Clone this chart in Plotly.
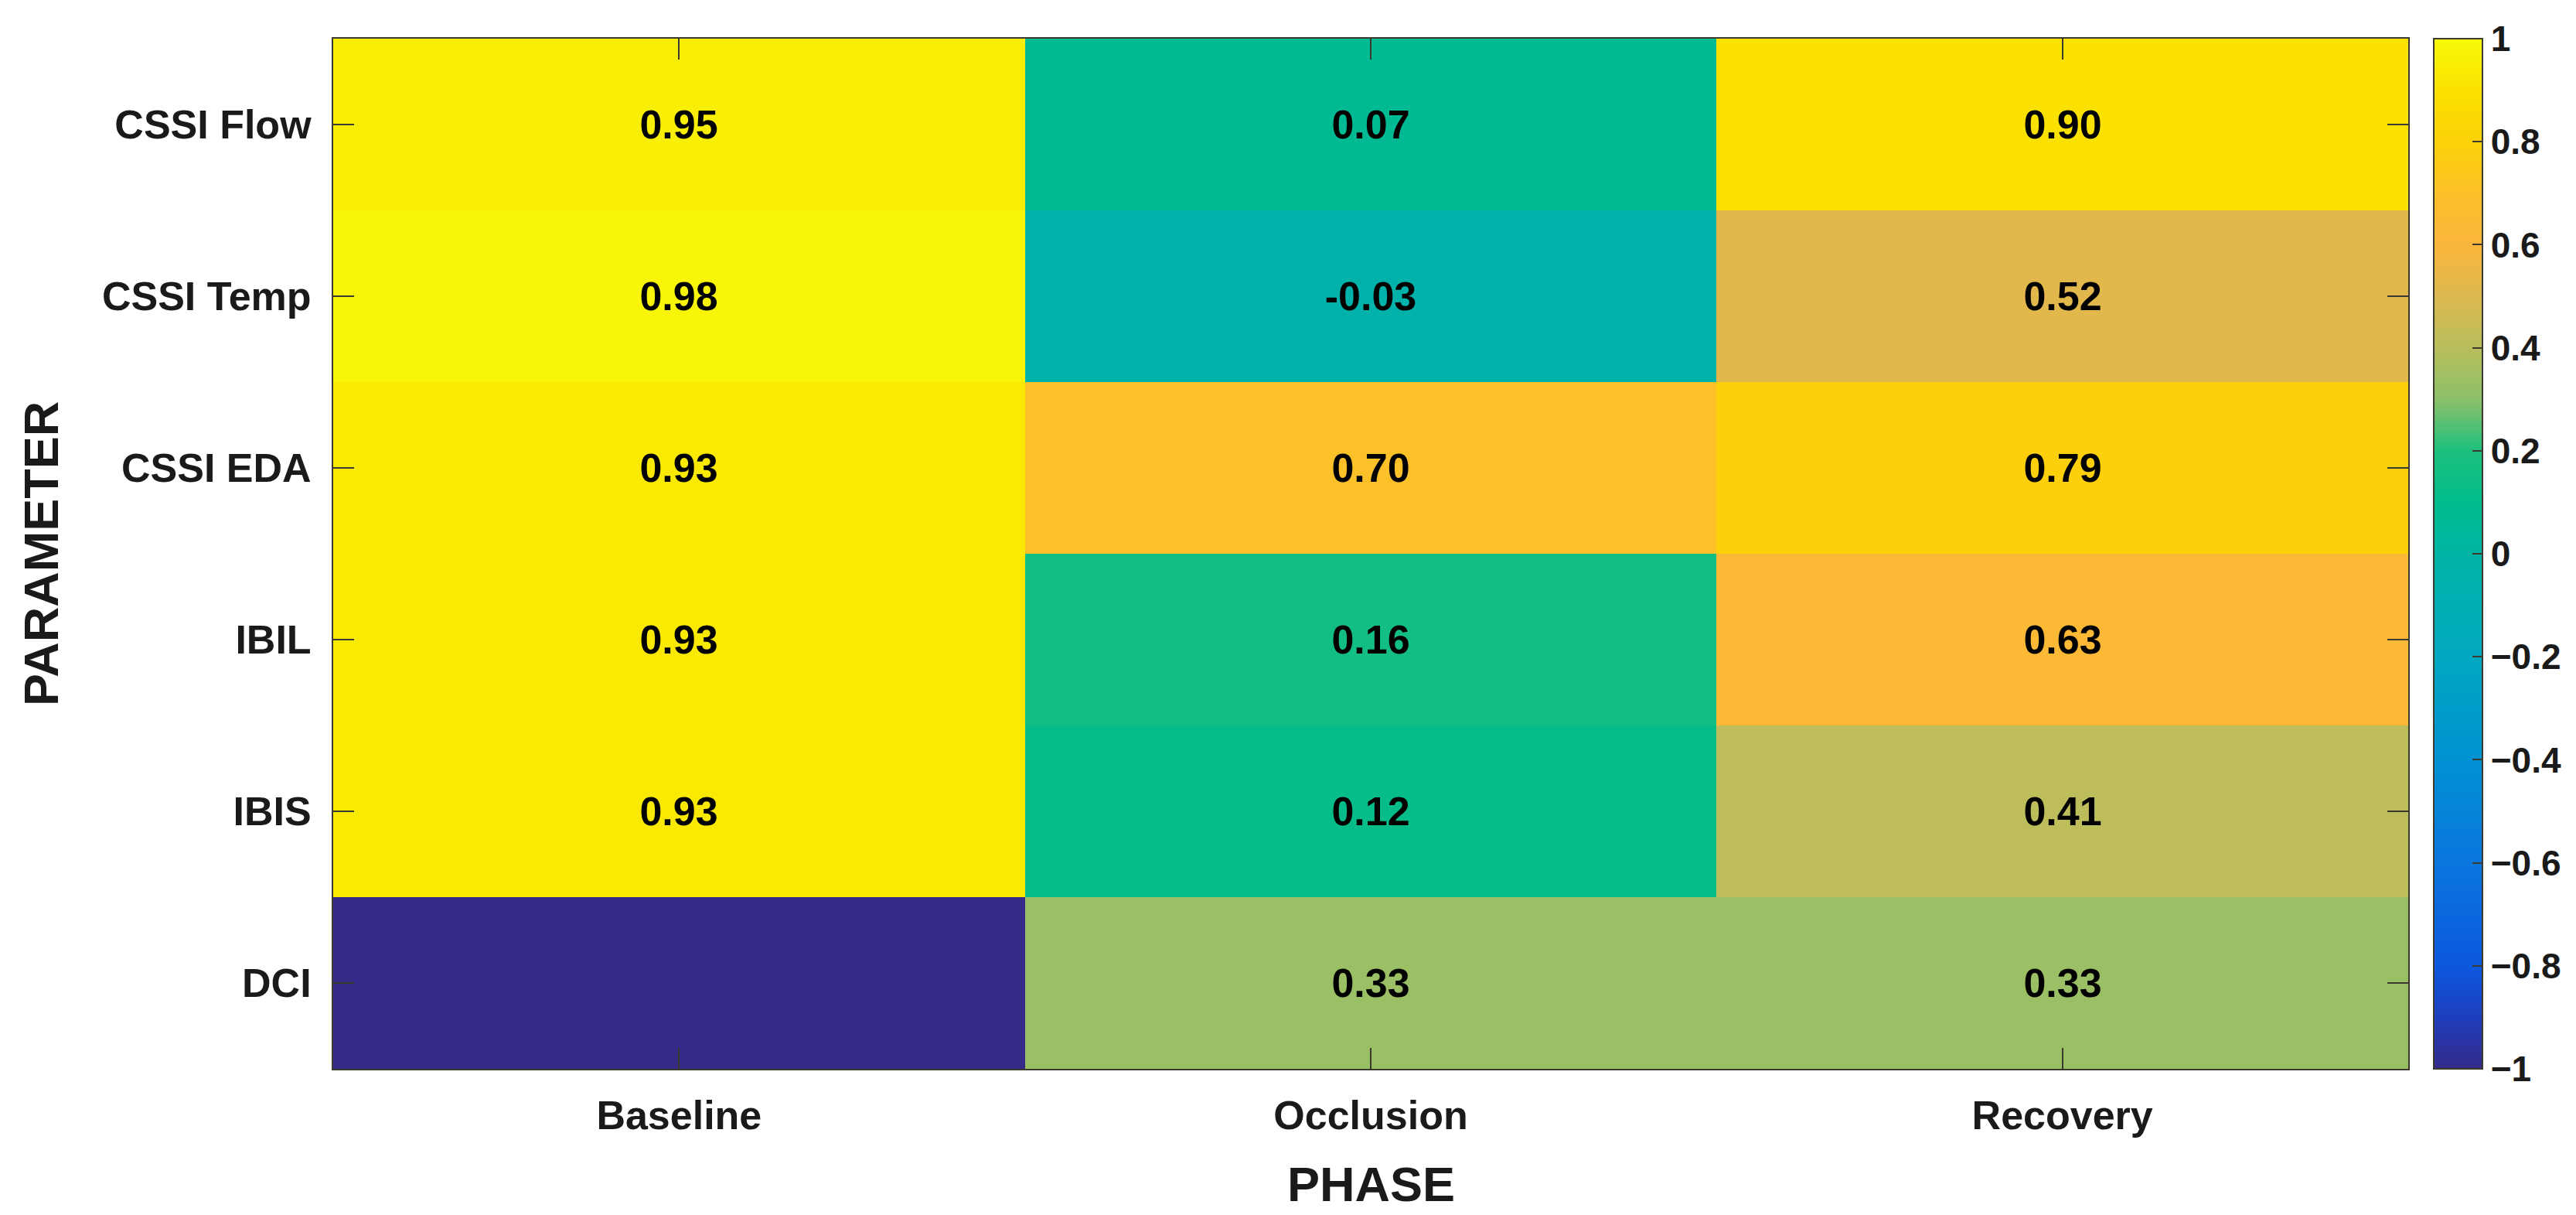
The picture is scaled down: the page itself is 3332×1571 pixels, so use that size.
import plotly.graph_objects as go

phases = ["Baseline", "Occlusion", "Recovery"]
parameters = ["CSSI Flow", "CSSI Temp", "CSSI EDA", "IBIL", "IBIS", "DCI"]

# correlation values per phase (rows follow `parameters`)
baseline = [0.95, 0.98, 0.93, 0.93, 0.93, -1.0]   # DCI baseline shown as colour-map minimum, no label
occlusion = [0.07, -0.03, 0.70, 0.16, 0.12, 0.33]
recovery = [0.90, 0.52, 0.79, 0.63, 0.41, 0.33]
unlabeled = [("DCI", "Baseline")]

colorbar_ticks = [-1, -0.8, -0.6, -0.4, -0.2, 0, 0.2, 0.4, 0.6, 0.8, 1]

z = [[b, o, r] for b, o, r in zip(baseline, occlusion, recovery)]
text = []
for i, p in enumerate(parameters):
    row = []
    for j, ph in enumerate(phases):
        row.append("" if (p, ph) in unlabeled else f"{z[i][j]:.2f}")
    text.append(row)

parula_like = [
    [0.00, "rgb(53,42,135)"],
    [0.05, "rgb(30,62,190)"],
    [0.10, "rgb(12,88,222)"],
    [0.20, "rgb(10,118,222)"],
    [0.30, "rgb(0,145,210)"],
    [0.40, "rgb(0,168,192)"],
    [0.50, "rgb(0,180,165)"],
    [0.55, "rgb(0,188,140)"],
    [0.60, "rgb(30,192,125)"],
    [0.65, "rgb(140,192,105)"],
    [0.70, "rgb(185,190,92)"],
    [0.75, "rgb(220,185,80)"],
    [0.80, "rgb(250,182,60)"],
    [0.85, "rgb(252,192,40)"],
    [0.90, "rgb(253,210,8)"],
    [0.95, "rgb(250,225,0)"],
    [1.00, "rgb(248,250,10)"],
]

FONT = "Liberation Sans, Arial, sans-serif"
AX = "#3a3a30"

fig = go.Figure(
    go.Heatmap(
        x=phases,
        y=parameters,
        z=z,
        text=text,
        texttemplate="%{text}",
        textfont=dict(family=FONT, size=52, color="black", weight="bold"),
        colorscale=parula_like,
        zmin=-1,
        zmax=1,
        xgap=0,
        ygap=0,
        colorbar=dict(
            x=1.0123,
            xanchor="left",
            y=0.5,
            yanchor="middle",
            len=1.0,
            lenmode="fraction",
            thickness=63,
            thicknessmode="pixels",
            xpad=0,
            ypad=0,
            outlinewidth=2,
            outlinecolor=AX,
            tickvals=colorbar_ticks,
            ticks="inside",
            ticklen=14,
            tickwidth=2,
            tickcolor=AX,
            tickfont=dict(family=FONT, size=46, color="#1a1a1a", weight="bold"),
        ),
    )
)

fig.update_layout(
    width=3332,
    height=1571,
    margin=dict(l=423, r=217, t=42, b=197),
    paper_bgcolor="white",
    plot_bgcolor="white",
    font=dict(family=FONT, color="#1a1a1a"),
    xaxis=dict(
        showline=True,
        linecolor=AX,
        linewidth=2,
        mirror="ticks",
        ticks="inside",
        ticklen=27,
        tickwidth=2,
        tickcolor=AX,
        tickfont=dict(family=FONT, size=52, color="#1a1a1a", weight="bold"),
        ticklabelstandoff=14,
        showgrid=False,
        zeroline=False,
    ),
    yaxis=dict(
        autorange="reversed",
        showline=True,
        linecolor=AX,
        linewidth=2,
        mirror="ticks",
        ticks="inside",
        ticklen=27,
        tickwidth=2,
        tickcolor=AX,
        tickfont=dict(family=FONT, size=52, color="#1a1a1a", weight="bold"),
        ticklabelstandoff=16,
        showgrid=False,
        zeroline=False,
    ),
    annotations=[
        dict(
            text="PHASE",
            xref="paper", yref="paper",
            x=0.5, y=-0.112,
            xanchor="center", yanchor="middle",
            showarrow=False,
            font=dict(family=FONT, size=63, color="#1a1a1a", weight="bold"),
        ),
        dict(
            text="PARAMETER",
            xref="paper", yref="paper",
            x=-0.1408, y=0.5,
            xanchor="center", yanchor="middle",
            textangle=-90,
            showarrow=False,
            font=dict(family=FONT, size=63, color="#1a1a1a", weight="bold"),
        ),
    ],
)

fig.write_html("out.html")
